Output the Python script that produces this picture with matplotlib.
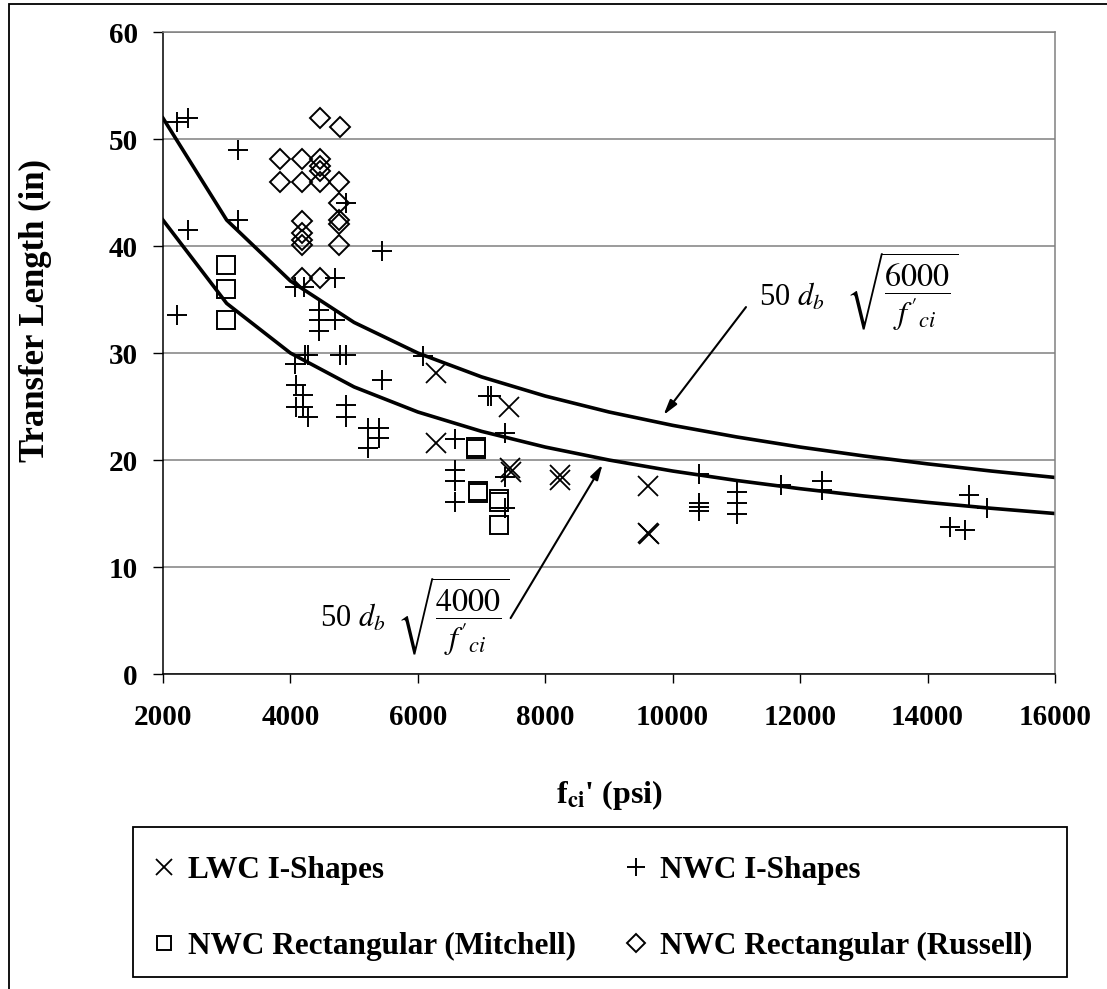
import matplotlib
matplotlib.use('Agg')
import matplotlib.pyplot as plt
from matplotlib.patches import Rectangle

plt.rcParams['font.family'] = ['Liberation Serif', 'DejaVu Serif']
plt.rcParams['mathtext.fontset'] = 'stix'

# ------------------------------- data -------------------------------
# LWC I-Shapes
lwc_fci = [6286, 7433, 6286, 7450, 7470, 8227, 8227, 9616, 9616, 9630]
lwc_lt = [28.1, 25.0, 21.6, 19.3, 18.9, 18.6, 18.1, 17.6, 13.2, 13.1]

# NWC I-Shapes
nwc_fci = [2214, 2397, 3180, 3180, 2397, 2214,
           4876, 5434, 4694, 4067, 4208,
           4443, 4443, 4443, 4694,
           4224, 4276, 4067, 4771, 4877,
           5440, 6076,
           4093, 4197, 4093, 4197, 4276,
           4877, 4877,
           5215, 5398, 5398, 5215,
           7095, 7150,
           6588, 7371,
           6588, 6588, 6588,
           7371, 7371,
           10410, 10410, 10410, 10410,
           11010, 11010, 11010,
           11704, 12351, 12351,
           14649, 14940, 14360, 14585]
nwc_lt = [51.6, 52.0, 49.0, 42.4, 41.5, 33.6,
          44.0, 39.5, 37.0, 36.2, 36.2,
          34.0, 33.1, 32.1, 33.1,
          29.8, 29.8, 29.0, 29.8, 29.8,
          27.5, 29.7,
          27.0, 26.1, 25.0, 25.0, 24.0,
          25.1, 24.0,
          23.0, 23.0, 22.1, 21.1,
          26.0, 26.0,
          22.0, 22.5,
          19.1, 18.0, 16.1,
          18.4, 15.5,
          18.7, 16.0, 15.6, 15.2,
          17.0, 16.0, 15.0,
          17.7, 18.0, 17.2,
          16.7, 15.5, 13.7, 13.5]

# NWC Rectangular (Mitchell)
mit_fci = [2987, 2987, 2987, 6910, 6910, 6940, 6950, 7270, 7270, 7270]
mit_lt = [38.2, 36.0, 33.1, 21.2, 21.0, 17.1, 16.9, 16.4, 16.1, 13.9]

# NWC Rectangular (Russell)
rus_fci = [4460, 4783, 3843, 4187, 4460, 4460, 4460, 3843, 4187, 4460, 4756,
           4756, 4756, 4756, 4756, 4187, 4187, 4187, 4187, 4187, 4460]
rus_lt = [52.0, 51.1, 48.1, 48.1, 48.1, 47.5, 47.0, 46.0, 46.0, 46.0, 46.0,
          44.0, 42.4, 42.1, 40.1, 42.3, 41.2, 40.6, 40.1, 37.0, 37.0]

# design curves 50 db sqrt(f/fci'), db = 0.6 in
curve_fci = [2000, 3000, 4000, 5000, 6000, 7000, 8000, 9000, 10000,
             11000, 12000, 13000, 14000, 15000, 16000]
curve_6000 = [51.96, 42.43, 36.74, 32.86, 30.00, 27.77, 25.98, 24.49, 23.24,
              22.16, 21.21, 20.38, 19.64, 18.97, 18.37]
curve_4000 = [42.43, 34.64, 30.00, 26.83, 24.49, 22.68, 21.21, 20.00, 18.97,
              18.09, 17.32, 16.64, 16.04, 15.49, 15.00]

x_ticks = [2000, 4000, 6000, 8000, 10000, 12000, 14000, 16000]
y_ticks = [0, 10, 20, 30, 40, 50, 60]

# ------------------------------------- plot -------------------------------------
fig = plt.figure(figsize=(11.07, 9.89), dpi=100)
ax = fig.add_axes([0.1472, 0.3185, 0.8058, 0.6491])

ax.plot(curve_fci, curve_6000, color='black', linewidth=2.6)
ax.plot(curve_fci, curve_4000, color='black', linewidth=2.6)

h_lwc, = ax.plot(lwc_fci, lwc_lt, linestyle='none', marker='x', markersize=14, markeredgewidth=1.3,
                 color='black', label='LWC I-Shapes')
h_nwc, = ax.plot(nwc_fci, nwc_lt, linestyle='none', marker='+', markersize=15, markeredgewidth=1.4,
                 color='black', label='NWC I-Shapes')
h_mit, = ax.plot(mit_fci, mit_lt, linestyle='none', marker='s', markersize=12.5, markeredgewidth=1.4,
                 markerfacecolor='none', color='black', label='NWC Rectangular (Mitchell)')
h_rus, = ax.plot(rus_fci, rus_lt, linestyle='none', marker='D', markersize=10.5, markeredgewidth=1.4,
                 markerfacecolor='none', color='black', label='NWC Rectangular (Russell)')

ax.set_xlim(2000, 16000)
ax.set_ylim(0, 60)
ax.set_xticks(x_ticks)
ax.set_yticks(y_ticks)
ax.yaxis.grid(True, color='#808080', linewidth=1.1)
ax.set_axisbelow(True)

for s in ['top', 'right']:
    ax.spines[s].set_color('#808080')
    ax.spines[s].set_linewidth(1.1)
for s in ['left', 'bottom']:
    ax.spines[s].set_color('black')
    ax.spines[s].set_linewidth(1.1)

ax.tick_params(axis='y', direction='out', length=7, width=1, pad=11, labelsize=21)
ax.tick_params(axis='x', direction='out', length=6.5, width=1, pad=15, labelsize=21)
for lab in ax.get_xticklabels() + ax.get_yticklabels():
    lab.set_fontweight('bold')

ax.set_ylabel('Transfer Length (in)', fontsize=25, fontweight='bold')
ax.yaxis.set_label_coords(-0.124, 0.567)
ax.set_xlabel("f$_{\\mathbf{ci}}$' (psi)", fontsize=23, fontweight='bold')
ax.xaxis.set_label_coords(0.5, -0.162)

# formula labels and arrows
ax.text(11349, 35.2, r'50 $d_b$', fontsize=22, va='center', ha='left')
ax.text(12727, 35.7, r"$\sqrt{\dfrac{6000}{f'_{ci}}}$", fontsize=23, va='center', ha='left')
ax.annotate('', xy=(9830, 24.0), xytext=(11177, 34.5),
            arrowprops=dict(arrowstyle='-|>,head_length=0.9,head_width=0.25', color='black', lw=1.5))

ax.text(4459, 5.2, r'50 $d_b$', fontsize=22, va='center', ha='left')
ax.text(5680, 5.3, r"$\sqrt{\dfrac{4000}{f'_{ci}}}$", fontsize=23, va='center', ha='left')
ax.annotate('', xy=(8922, 19.8), xytext=(7434, 5.0),
            arrowprops=dict(arrowstyle='-|>,head_length=0.9,head_width=0.25', color='black', lw=1.5))

# legend at the bottom, filled row by row
fig.legend([h_lwc, h_mit, h_nwc, h_rus],
           ['LWC I-Shapes', 'NWC Rectangular (Mitchell)', 'NWC I-Shapes', 'NWC Rectangular (Russell)'],
           loc='upper left', bbox_to_anchor=(150 / 1107, 1 - 856 / 989), ncol=2,
           prop={'weight': 'bold', 'size': 22.5}, frameon=False,
           labelspacing=1.5, handlelength=0.9, handletextpad=0.3, columnspacing=1.5,
           borderpad=0, borderaxespad=0, markerscale=0.85)
fig.add_artist(Rectangle((133 / 1107, 1 - 977 / 989), 934 / 1107, 150 / 989,
                         transform=fig.transFigure, fill=False, edgecolor='black', linewidth=1.3))

# outer chart border (left and top edges visible)
fig.add_artist(Rectangle((0.008, -0.05), 1.2, 1.046, transform=fig.transFigure,
                         fill=False, edgecolor='black', linewidth=1.3))

plt.savefig('out.png', dpi=100)
